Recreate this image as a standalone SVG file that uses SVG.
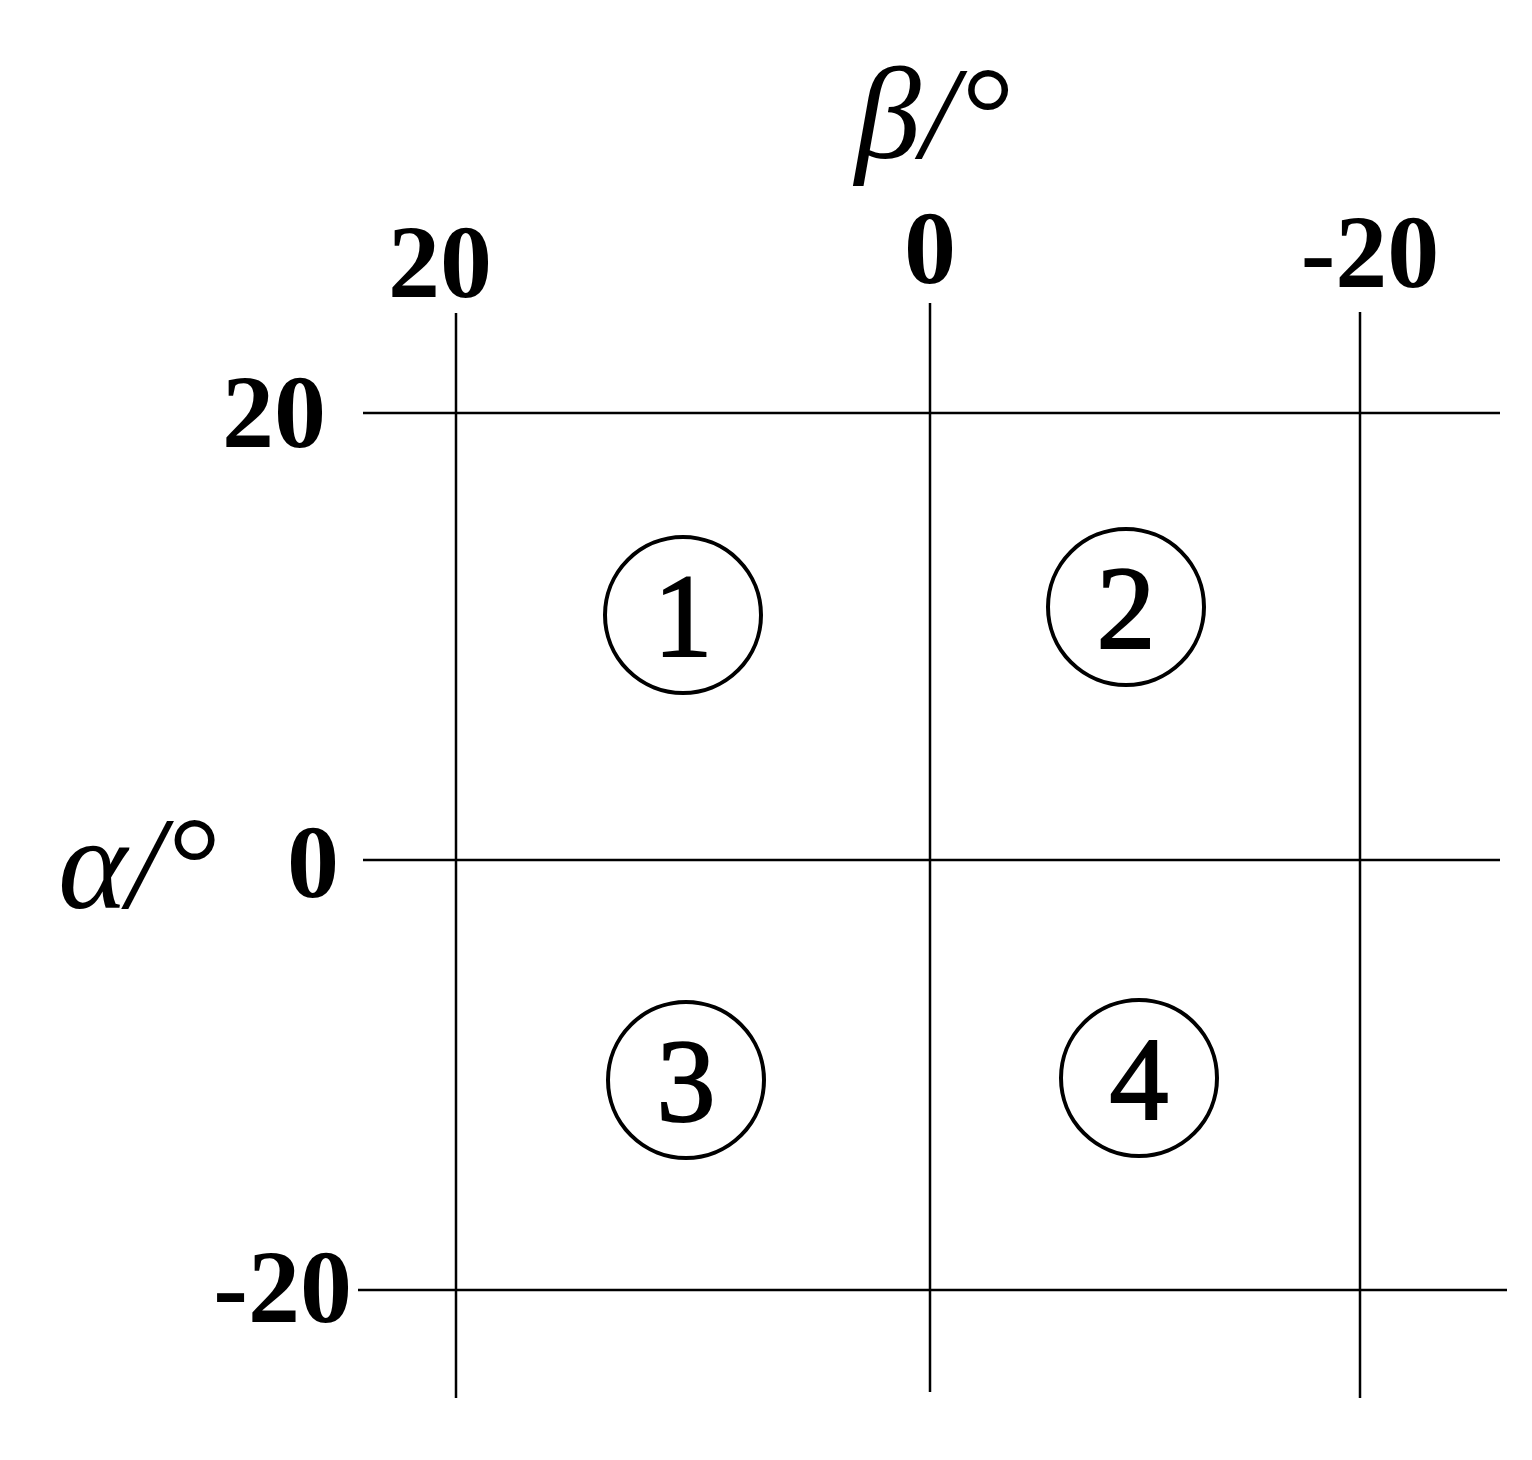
<svg xmlns="http://www.w3.org/2000/svg" width="1532" height="1460" viewBox="0 0 1532 1460">
<style>
.ln{stroke:#000;stroke-width:2.5;fill:none}
.tk{font-family:"Liberation Serif",serif;font-weight:bold;font-size:104px;fill:#000}
.ax{font-family:"Liberation Serif",serif;font-style:italic;font-size:132px;fill:#000}
.cc{stroke:#000;stroke-width:4;fill:none}
.cn{font-family:"Liberation Serif",serif;font-size:118px;fill:#000;stroke:#000;stroke-width:2;text-anchor:middle}
</style>
<rect width="1532" height="1460" fill="#fff"/>
<g id="grid">
<line class="ln" x1="456" y1="313" x2="456" y2="1398"/>
<line class="ln" x1="930" y1="303" x2="930" y2="1392"/>
<line class="ln" x1="1360" y1="312" x2="1360" y2="1398"/>
<line class="ln" x1="363" y1="413" x2="1500" y2="413"/>
<line class="ln" x1="363" y1="860" x2="1500" y2="860"/>
<line class="ln" x1="358" y1="1290" x2="1507" y2="1290"/>
</g>
<g id="labels">
<text class="ax" x="855" y="158">β/°</text>
<text class="ax" x="58" y="908">α/°</text>
<text class="tk" x="440" y="297" text-anchor="middle">20</text>
<text class="tk" x="930" y="283" text-anchor="middle">0</text>
<text class="tk" x="1370" y="287" text-anchor="middle">-20</text>
<text class="tk" x="326" y="447" text-anchor="end">20</text>
<text class="tk" x="313" y="897" text-anchor="middle">0</text>
<text class="tk" x="352" y="1322" text-anchor="end">-20</text>
</g>
<g id="n1"><circle class="cc" cx="683" cy="615" r="78"/><text class="cn" x="683" y="656">1</text></g>
<g id="n2"><circle class="cc" cx="1126" cy="607" r="78"/><text class="cn" x="1126" y="648">2</text></g>
<g id="n3"><circle class="cc" cx="686" cy="1080" r="78"/><text class="cn" x="686" y="1121">3</text></g>
<g id="n4"><circle class="cc" cx="1139" cy="1078" r="78"/><text class="cn" x="1139" y="1119">4</text></g>
</svg>
